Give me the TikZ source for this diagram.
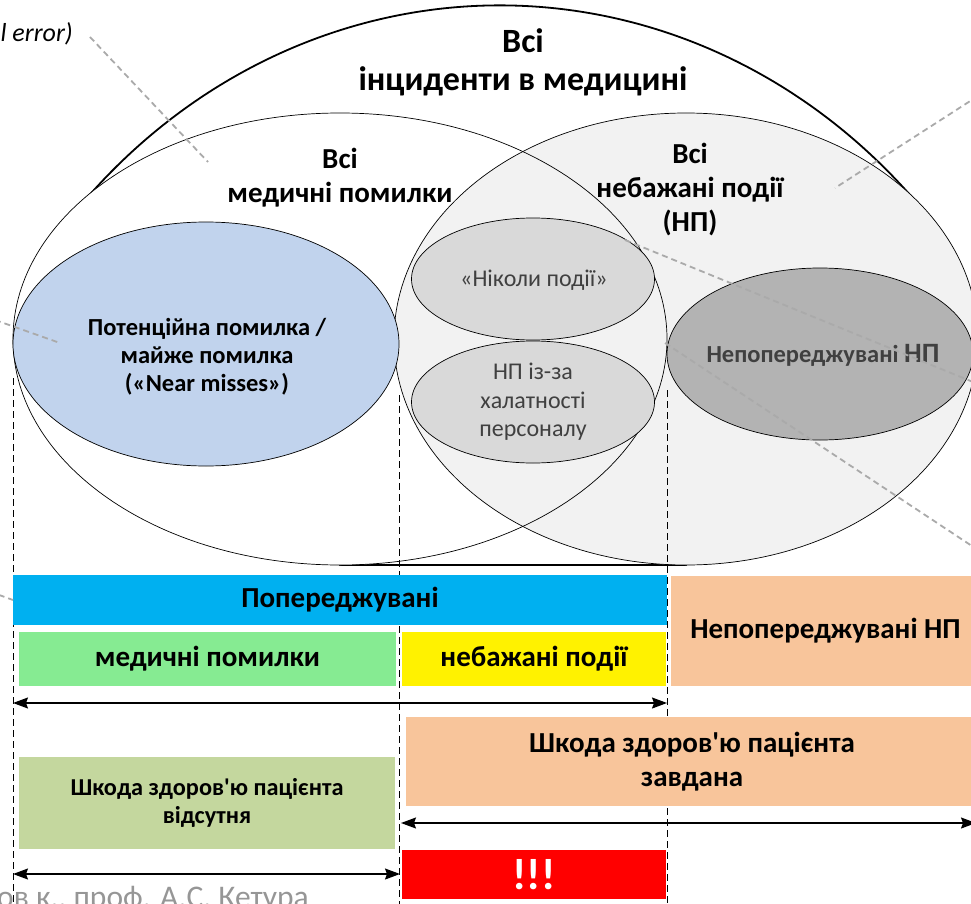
\documentclass[tikz,border=0pt]{standalone}
\usepackage{fontspec}
\setmainfont{Carlito}[Ligatures=TeXOff]
\usetikzlibrary{shapes.geometric,arrows.meta}

\definecolor{nearfill}{RGB}{193,211,237}
\definecolor{aefill}{HTML}{F2F2F2}
\definecolor{subfill}{HTML}{D9D9D9}
\definecolor{unpfill}{HTML}{B3B3B3}
\definecolor{txtgray}{HTML}{404040}
\definecolor{prevblue}{HTML}{00B0F0}
\definecolor{errgreen}{RGB}{134,235,146}
\definecolor{peach}{RGB}{248,197,155}
\definecolor{olive}{RGB}{196,215,158}
\definecolor{leadgray}{RGB}{170,170,170}
\definecolor{footgray}{RGB}{150,150,150}

\newcommand\setfs[2]{\fontsize{#1}{#2}\selectfont}

\tikzset{
  oval/.style={ellipse, inner sep=0pt, line width=0.7pt},
  bar/.style={rectangle, inner sep=0pt, align=center, font=\bfseries\setfs{29}{34}},
  guide/.style={draw=black, line width=0.9pt, dash pattern=on 7pt off 4pt},
  leader/.style={draw=leadgray, line width=1.8pt, dash pattern=on 6pt off 4pt},
  span/.style={draw=black, line width=1.4pt, {Stealth[length=15pt,width=11pt,inset=2pt]}-{Stealth[length=15pt,width=11pt,inset=2pt]}},
  lbl/.style={align=center, inner sep=0pt, font=\bfseries\setfs{29}{34}}
}

\begin{document}
\begin{tikzpicture}[x=1pt,y=1pt]
\useasboundingbox (0,0) rectangle (971,-904);
\clip (0,0) rectangle (971,-904);
\fill[white] (0,0) rectangle (971,-904);

% outer set: all incidents (flat bottom, domed top)
\filldraw[fill=white, draw=black, line width=1.8pt]
  (340,-565) -- (60,-231)
  arc[start angle=140.5, end angle=39.5, x radius=570pt, y radius=620pt]
  -- (686,-565) -- cycle;

% medical errors and adverse events
\node[oval, fill=white, minimum width=654pt, minimum height=452pt] (err) at (340,-339) {};
\node[oval, fill=aefill, draw=black, minimum width=584pt, minimum height=452pt] (ae) at (686,-339) {};
\node[oval, draw=black, minimum width=654pt, minimum height=452pt] (errline) at (340,-339) {};

% inner sets
\node[oval, fill=nearfill, draw=black, minimum width=386pt, minimum height=244pt] (near) at (206,-344) {};
\node[oval, fill=subfill, draw=black, minimum width=243pt, minimum height=122pt] (never) at (533,-279) {};
\node[oval, fill=subfill, draw=black, minimum width=243pt, minimum height=122pt] (negl) at (533,-402) {};
\node[oval, fill=unpfill, draw=black, minimum width=306pt, minimum height=172pt] (unp) at (820,-354) {};

% set labels
\node[lbl, font=\bfseries\setfs{34}{38}] (ttl) at (523,-62) {Всі\\інциденти в медицині};
\node[lbl] (errtxt) at (340,-178) {Всі\\медичні помилки};
\node[lbl] (aetxt) at (690,-190) {Всі\\небажані події\\(НП)};
\node[lbl, font=\bfseries\setfs{24.5}{28}] (neartxt) at (207,-357) {Потенційна помилка /\\майже помилка\\(«Near misses»)};
\node[align=center, inner sep=0pt, text=txtgray, font=\setfs{24}{28.5}] (nevertxt) at (534,-280) {«Ніколи події»};
\node[align=center, inner sep=0pt, text=txtgray, font=\setfs{24}{28.5}] (negltxt) at (533,-402) {НП із-за\\халатності\\персоналу};
\node[inner sep=0pt, text=txtgray, font=\bfseries\setfs{24.5}{28}] (unptxt) at (823,-355) {Непопереджувані {\setfs{28}{28}НП}};

% vertical guides
\coordinate (g1a) at (13,-378);  \coordinate (g1b) at (13,-904);
\coordinate (g2a) at (399,-395); \coordinate (g2b) at (399,-904);
\coordinate (g3a) at (667,-390); \coordinate (g3b) at (667,-904);
\draw[guide] (g1a) -- (g1b);
\draw[guide] (g2a) -- (g2b);
\draw[guide] (g3a) -- (g3b);

% classification bars
\node[bar, fill=prevblue, minimum width=654pt, minimum height=50pt] (prev) at (340,-600) {Попереджувані};
\node[bar, fill=errgreen, minimum width=377pt, minimum height=54pt] (errbar) at (207.5,-659) {медичні помилки};
\node[bar, fill=yellow, minimum width=264pt, minimum height=54pt] (aebar) at (534,-659) {небажані події};
\node[bar, fill=peach, minimum width=309pt, minimum height=110pt] (unpbar) at (825.5,-631) {Непопереджувані НП};
\node[bar, fill=peach, minimum width=572pt, minimum height=89pt] (harm) at (692,-761.5) {Шкода здоров'ю пацієнта\\завдана};
\node[bar, fill=olive, minimum width=376pt, minimum height=92pt, font=\bfseries\setfs{24.3}{27.5}] (noharm) at (207,-803) {Шкода здоров'ю пацієнта\\відсутня};
\node[bar, fill=red, text=white, minimum width=264pt, minimum height=49pt, font=\bfseries\setfs{44}{46}] (alarm) at (534,-874.5) {!!!};

% extent arrows
\coordinate (a1l) at (13,-703);  \coordinate (a1r) at (667,-703);
\coordinate (a2l) at (401,-823); \coordinate (a2r) at (976,-823);
\coordinate (a3l) at (13,-874);  \coordinate (a3r) at (400,-874);
\draw[span] (a1l) -- (a1r);
\draw[span] (a2l) -- (a2r);
\draw[span] (a3l) -- (a3r);

% callout leaders
\coordinate (c1a) at (90,-37);   \coordinate (c1b) at (208,-162);
\coordinate (c2a) at (-5,-320);  \coordinate (c2b) at (60,-343);
\coordinate (c3a) at (-20,-588); \coordinate (c3b) at (13,-600);
\coordinate (c4a) at (978,-96);  \coordinate (c4b) at (835,-188);
\coordinate (c5a) at (625,-240); \coordinate (c5b) at (978,-384);
\coordinate (c6a) at (665,-343); \coordinate (c6b) at (978,-550);
\draw[leader] (c1a) -- (c1b);
\draw[leader] (c2a) -- (c2b);
\draw[leader] (c3a) -- (c3b);
\draw[leader] (c4a) -- (c4b);
\draw[leader] (c5a) -- (c5b);
\draw[leader] (c6a) -- (c6b);

% edge texts
\node[anchor=base east, inner sep=0pt, font=\itshape\setfs{26}{28}] (errnote) at (73,-42) {l error)};
\node[anchor=base west, inner sep=0pt, text=footgray, font=\setfs{31.5}{34}] (foot) at (-3,-907) {ов к., проф. А.С. Кетура};
\end{tikzpicture}
\end{document}
